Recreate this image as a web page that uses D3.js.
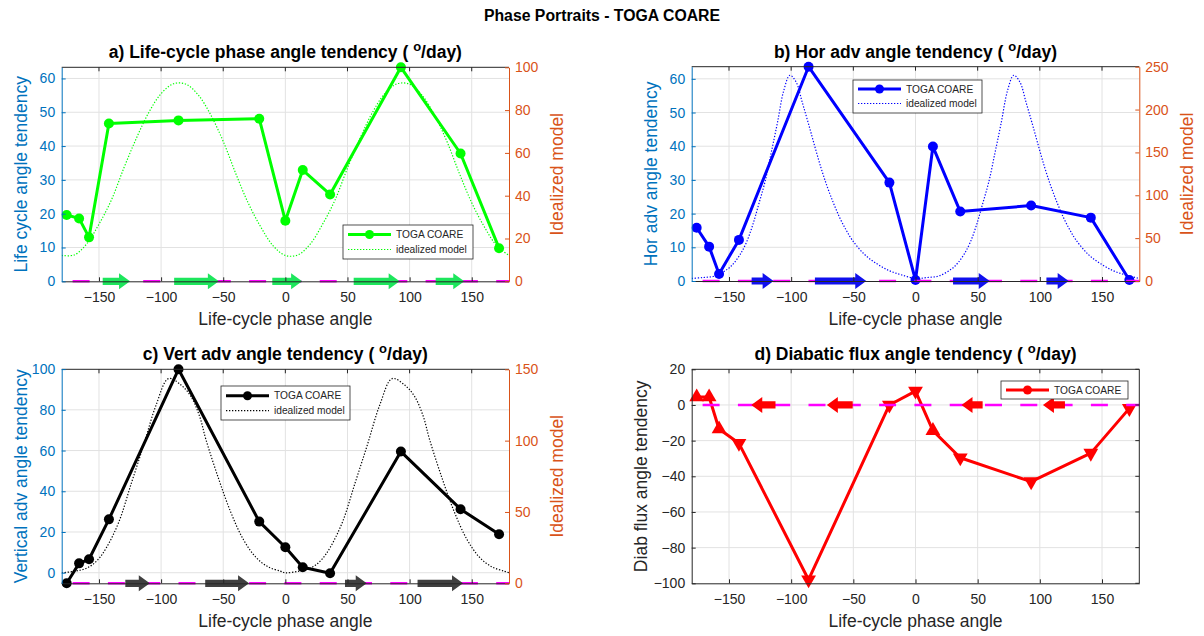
<!DOCTYPE html>
<html>
<head>
<meta charset="utf-8">
<script src="https://cdn.jsdelivr.net/npm/d3@7"></script>
<style>
  body { margin: 0; background: #fff; }
  svg { font-family: "Liberation Sans", Arial, sans-serif; }
</style>
</head>
<body>
<svg id="fig" width="1204" height="636"></svg>
<script>
// Life-cycle phase bins (degrees)
const phaseAngle = [-176, -166, -158, -142, -86, -21, 0, 14, 36, 93, 141, 172];

// Observed TOGA COARE tendencies (deg/day)
const lifeCycle = [19.6, 18.6, 13.0, 46.7, 47.6, 48.1, 17.9, 32.9, 25.7, 63.3, 37.8, 9.8];
const horAdv    = [15.8, 10.2, 2.1, 12.2, 63.6, 29.2, 0.3, 39.9, 20.6, 22.4, 18.8, 0.3];
const vertAdv   = [-5.2, 4.6, 6.6, 26.2, 99.9, 25.1, 12.5, 2.7, -0.3, 59.5, 31.2, 18.9];
const diabatic  = [4.5, 4.5, -13.5, -21.5, -98, 0, 7.8, -14.4, -29.6, -43, -27, -1.9];
const diabMarker = ['up', 'up', 'up', 'down', 'down', 'down', 'down', 'up', 'down', 'down', 'down', 'down'];

// Idealized model curves (right axis)
const idealAngleA = [-180,-170,-160,-150,-140,-130,-120,-110,-100,-90,-80,-70,-60,-50,-40,-30,-20,-10,0,
                     10,20,30,40,50,60,70,80,90,100,110,120,130,140,150,160,170,180];
const idealLifeCycle = [12.1,12.3,17.4,26.7,38,52.9,66.7,78.8,87.7,92.3,92.1,87,77.7,65.4,50.5,36.7,25.6,16.7,12.1,
                        12.3,17.4,26.7,38,52.9,66.7,78.8,87.7,92.3,92.1,87,77.7,65.4,50.5,36.7,25.6,16.7,12.1];

const idealAngleB = [-180,-171,-161,-151,-146,-141,-136,-131,-126,-121,-116,-111,-106,-101,-96,-91,-86,-81,-76,-71,-66,-61,-56,-51,-41,-31,-21,-11,
                     0,9,19,29,34,39,44,49,54,59,64,69,74,79,84,89,94,99,104,109,114,119,124,129,139,149,159,169,180];
const idealHorAdv = [3,4,6,14,21,31,45,65,90,116,150,185,222,240,232,208,183,157,132,110,91,74,60,48,31,20,12,7,
                     3,4,6,14,21,31,45,65,90,116,150,185,222,240,232,208,183,157,132,110,91,74,60,48,31,20,12,7,3];

const idealAngleC = [-180,-169,-159,-151,-144,-134,-124,-114,-104,-94,-84,-76,-69,-64,-54,-44,-34,-24,-14,-4,
                     0,11,21,29,36,46,56,66,76,86,96,104,111,116,126,136,146,156,166,176,180];
const idealVertAdv = [7.4,8.5,11,16.4,25,43,70,97,125,143.5,139,131,117,101,74,50,31,18.5,11.6,8.5,
                      7.4,8.5,11,16.4,25,43,70,97,125,143.5,139,131,117,101,74,50,31,18.5,11.6,8.5,7.4];

// Direction arrows along the zero line: [start, end] in degrees
const arrowsA = [[-147,-125],[-89.5,-53.5],[-10.5,13.5],[55,92],[121,144]];
const arrowsB = [[-131.8,-114.1],[-80.9,-39.6],[30.2,59.7],[105.3,123.2]];
const arrowsC = [[-128.8,-109.1],[-64.5,-29.2],[48,65.5],[106.4,143]];
const arrowsD = [[-112.6,-132.1],[-50.5,-71.3],[54,37],[120.2,102.5]];

// Tick values
const xTicks = [-150, -100, -50, 0, 50, 100, 150];
const ticksA = [0, 10, 20, 30, 40, 50, 60];
const ticksA2 = [0, 20, 40, 60, 80, 100];
const ticksB = [0, 10, 20, 30, 40, 50, 60];
const ticksB2 = [0, 50, 100, 150, 200, 250];
const ticksC = [0, 20, 40, 60, 80, 100];
const ticksC2 = [0, 50, 100, 150];
const ticksD = [-100, -80, -60, -40, -20, 0, 20];

const FONT = '"Liberation Sans", Arial, sans-serif';
const AX = '#262626', BLUE = '#0072BD', ORANGE = '#D95319', GRID = '#e2e2e2', MAGENTA = '#ff00ff';

const svg = d3.select('#fig');

svg.append('text')
  .attr('x', 602).attr('y', 21).attr('text-anchor', 'middle')
  .attr('font-weight', 'bold').attr('font-size', 15.8).attr('fill', '#000')
  .text('Phase Portraits - TOGA COARE');

function styleAxis(sel, color, size) {
  sel.attr('font-family', FONT).attr('font-size', size);
  sel.select('.domain').attr('stroke', color).attr('stroke-width', 1);
  sel.selectAll('.tick line').attr('stroke', color);
  sel.selectAll('.tick text').attr('fill', color);
}

function drawPanel(p) {
  const x = d3.scaleLinear().domain([-180, 180]).range([p.left, p.right]);
  const y = d3.scaleLinear().domain(p.yDomain).range([p.bottom, p.top]);
  const y2 = p.y2Domain ? d3.scaleLinear().domain(p.y2Domain).range([p.bottom, p.top]) : null;
  const g = svg.append('g');
  const clipId = 'clip-' + p.id;
  svg.append('clipPath').attr('id', clipId).append('rect')
    .attr('x', p.left).attr('y', p.top - 1)
    .attr('width', p.right - p.left).attr('height', p.bottom - p.top + 2);

  // grid
  g.append('g').selectAll('line').data(xTicks).join('line')
    .attr('x1', d => x(d)).attr('x2', d => x(d)).attr('y1', p.top).attr('y2', p.bottom)
    .attr('stroke', GRID).attr('stroke-width', 1);
  g.append('g').selectAll('line').data(p.yTicks.filter(t => y(t) > p.top + 1 && y(t) < p.bottom - 1)).join('line')
    .attr('x1', p.left).attr('x2', p.right).attr('y1', d => y(d)).attr('y2', d => y(d))
    .attr('stroke', GRID).attr('stroke-width', 1);

  // idealized model (right axis)
  if (p.idealAngle) {
    const pts = p.idealAngle.map((a, i) => [a, p.idealValue[i]]);
    g.append('path').datum(pts)
      .attr('d', d3.line().x(d => x(d[0])).y(d => y2(d[1])).curve(d3.curveCatmullRom.alpha(0.5)))
      .attr('fill', 'none').attr('stroke', p.color).attr('stroke-width', 1.2)
      .attr('stroke-dasharray', '1.3 1.7').attr('clip-path', `url(#${clipId})`);
  }

  // observed tendency
  const obs = phaseAngle.map((a, i) => [a, p.values[i]]);
  g.append('path').datum(obs)
    .attr('d', d3.line().x(d => x(d[0])).y(d => y(d[1])))
    .attr('fill', 'none').attr('stroke', p.color).attr('stroke-width', 3)
    .attr('stroke-linejoin', 'round').attr('clip-path', `url(#${clipId})`);

  if (p.markers) {
    g.append('g').selectAll('path').data(obs).join('path')
      .attr('transform', (d, i) => `translate(${x(d[0])},${y(d[1])}) rotate(${p.markers[i] === 'down' ? 180 : 0})`)
      .attr('d', d3.symbol(d3.symbolTriangle, 95)())
      .attr('fill', p.color);
  } else {
    g.append('g').selectAll('circle').data(obs).join('circle')
      .attr('cx', d => x(d[0])).attr('cy', d => y(d[1])).attr('r', 5)
      .attr('fill', p.color);
  }

  // zero reference and direction arrows
  const zy = p.zeroOnRight ? y2(0) : y(0);
  g.append('line')
    .attr('x1', p.left).attr('x2', p.right).attr('y1', zy).attr('y2', zy)
    .attr('stroke', MAGENTA).attr('stroke-width', 2.6)
    .attr('stroke-dasharray', '17 18.3').attr('stroke-dashoffset', 24.4);

  g.append('g').selectAll('path').data(p.arrows).join('path')
    .attr('d', d => {
      const x0 = x(d[0]), x1 = x(d[1]);
      const dir = Math.sign(x1 - x0);
      const head = 11, hw = 8, sw = 3.6;
      const xb = x1 - dir * head;
      return `M${x0},${zy - sw}L${xb},${zy - sw}L${xb},${zy - hw}L${x1},${zy}L${xb},${zy + hw}L${xb},${zy + sw}L${x0},${zy + sw}Z`;
    })
    .attr('fill', p.arrowColor);

  // box top (and right when there is no second axis)
  g.append('line').attr('x1', p.left).attr('x2', p.right).attr('y1', p.top).attr('y2', p.top)
    .attr('stroke', AX).attr('stroke-width', 1);
  g.append('g').selectAll('line').data(xTicks).join('line')
    .attr('x1', d => x(d)).attr('x2', d => x(d)).attr('y1', p.top).attr('y2', p.top + 4)
    .attr('stroke', AX);

  // axes
  const xa = g.append('g').attr('transform', `translate(0,${p.bottom})`)
    .call(d3.axisBottom(x).tickValues(xTicks).tickSizeInner(-4).tickSizeOuter(0).tickPadding(11));
  styleAxis(xa, AX, 14);

  const leftColor = p.y2Domain ? BLUE : AX;
  const ya = g.append('g').attr('transform', `translate(${p.left},0)`)
    .call(d3.axisLeft(y).tickValues(p.yTicks).tickSizeInner(-4).tickSizeOuter(0).tickPadding(6.5));
  styleAxis(ya, leftColor, 14);

  if (y2) {
    const ya2 = g.append('g').attr('transform', `translate(${p.right},0)`)
      .call(d3.axisRight(y2).tickValues(p.y2Ticks).tickSizeInner(-4).tickSizeOuter(0).tickPadding(6));
    styleAxis(ya2, ORANGE, 14);
    g.append('text')
      .attr('transform', `translate(${p.right + 54},${(p.top + p.bottom) / 2}) rotate(-90)`)
      .attr('text-anchor', 'middle').attr('font-size', 17.5).attr('fill', ORANGE)
      .text('Idealized model');
  } else {
    g.append('line').attr('x1', p.right).attr('x2', p.right).attr('y1', p.top).attr('y2', p.bottom)
      .attr('stroke', AX).attr('stroke-width', 1);
    g.append('g').selectAll('line').data(p.yTicks).join('line')
      .attr('x1', p.right - 4).attr('x2', p.right).attr('y1', d => y(d)).attr('y2', d => y(d))
      .attr('stroke', AX);
  }

  // labels
  g.append('text')
    .attr('transform', `translate(${p.left - p.yLabelOffset},${(p.top + p.bottom) / 2}) rotate(-90)`)
    .attr('text-anchor', 'middle').attr('font-size', 17.5).attr('fill', leftColor)
    .text(p.yLabel);
  g.append('text')
    .attr('x', (p.left + p.right) / 2).attr('y', p.bottom + 44)
    .attr('text-anchor', 'middle').attr('font-size', 17.5).attr('fill', AX)
    .text('Life-cycle phase angle');

  const t = g.append('text')
    .attr('x', (p.left + p.right) / 2).attr('y', p.top - 9)
    .attr('text-anchor', 'middle').attr('font-size', 17.5).attr('font-weight', 'bold').attr('fill', '#000');
  t.append('tspan').text(p.title + ' ( ');
  t.append('tspan').attr('dy', -7).attr('font-size', 13).text('o');
  t.append('tspan').attr('dy', 7).text('/day)');

  // legend
  const L = p.legend;
  const lg = g.append('g');
  lg.append('rect').attr('x', L.x).attr('y', L.y).attr('width', L.w).attr('height', L.h)
    .attr('fill', '#fff').attr('stroke', AX).attr('stroke-width', 0.8);
  const rows = p.idealAngle ? ['TOGA COARE', 'idealized model'] : ['TOGA COARE'];
  rows.forEach((label, i) => {
    const ry = L.y + L.row0 + i * L.rowStep;
    lg.append('line').attr('x1', L.x + 5).attr('x2', L.x + 48).attr('y1', ry).attr('y2', ry)
      .attr('stroke', p.color)
      .attr('stroke-width', i === 0 ? 3 : 1.2)
      .attr('stroke-dasharray', i === 0 ? null : '1.3 1.7');
    if (i === 0) lg.append('circle').attr('cx', L.x + 26.5).attr('cy', ry).attr('r', 4.5).attr('fill', p.color);
    lg.append('text').attr('x', L.x + 53).attr('y', ry + 3.6).attr('font-size', 10.2).attr('fill', AX).text(label);
  });
}

drawPanel({
  id: 'a', left: 61.7, right: 509, top: 67.3, bottom: 281.3,
  yDomain: [0, d3.max(lifeCycle)], yTicks: ticksA, y2Domain: [0, 100], y2Ticks: ticksA2,
  values: lifeCycle, idealAngle: idealAngleA, idealValue: idealLifeCycle,
  color: '#00ff00', arrowColor: '#1de65c', arrows: arrowsA,
  title: 'a) Life-cycle phase angle tendency', yLabel: 'Life cycle angle tendency', yLabelOffset: 35,
  legend: { x: 343, y: 225, w: 130, h: 34, row0: 9.5, rowStep: 15 }
});

drawPanel({
  id: 'b', left: 691.7, right: 1139.3, top: 66.7, bottom: 281,
  yDomain: [0, d3.max(horAdv)], yTicks: ticksB, y2Domain: [0, 250], y2Ticks: ticksB2,
  values: horAdv, idealAngle: idealAngleB, idealValue: idealHorAdv,
  color: '#0000ff', arrowColor: '#1010ee', arrows: arrowsB,
  title: 'b) Hor adv angle tendency', yLabel: 'Hor adv angle tendency', yLabelOffset: 35,
  legend: { x: 853, y: 80, w: 129, h: 33, row0: 9, rowStep: 14.5 }
});

drawPanel({
  id: 'c', left: 61.7, right: 509, top: 369.3, bottom: 583.3,
  yDomain: [d3.min(vertAdv), d3.max(vertAdv)], yTicks: ticksC, y2Domain: [0, 150], y2Ticks: ticksC2,
  values: vertAdv, idealAngle: idealAngleC, idealValue: idealVertAdv, zeroOnRight: true,
  color: '#000000', arrowColor: '#404040', arrows: arrowsC,
  title: 'c) Vert adv angle tendency', yLabel: 'Vertical adv angle tendency', yLabelOffset: 35,
  legend: { x: 221, y: 386, w: 129, h: 34, row0: 9.7, rowStep: 15 }
});

drawPanel({
  id: 'd', left: 691.7, right: 1139.3, top: 369.3, bottom: 583.3,
  yDomain: [-100, 20], yTicks: ticksD,
  values: diabatic, markers: diabMarker,
  color: '#ff0000', arrowColor: '#ff0000', arrows: arrowsD,
  title: 'd) Diabatic flux angle tendency', yLabel: 'Diab flux angle tendency', yLabelOffset: 45,
  legend: { x: 1001, y: 381, w: 127, h: 18, row0: 9, rowStep: 15 }
});
</script>
</body>
</html>
